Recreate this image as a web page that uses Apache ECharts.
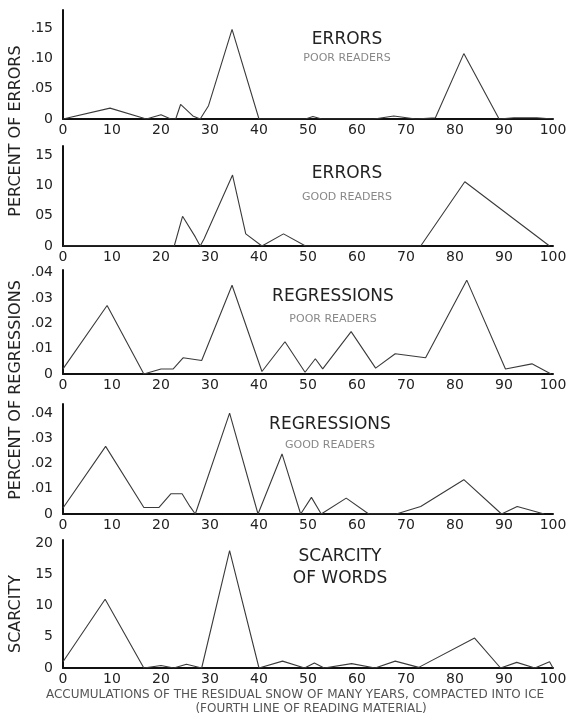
<!DOCTYPE html>
<html>
<head>
<meta charset="utf-8" />
<script src="https://cdn.jsdelivr.net/npm/echarts@6/dist/echarts.min.js"></script>
<style>
  html, body { margin: 0; padding: 0; background: #fff; }
  #main { width: 574px; height: 719px; }
</style>
</head>
<body>
<div id="main"></div>
<script>
// x positions along the reading line (0-100) and values
var errPoorX = [0, 9.6, 17, 20, 22, 23, 24, 26.5, 28, 29.7, 34.5, 40, 49.5, 51, 52.8, 63.5, 67.5, 72, 76, 81.8, 89, 92, 96.7, 100];
var errPoorY = [0, 0.018, 0, 0.007, 0, 0, 0.024, 0.005, 0, 0.022, 0.148, 0, 0, 0.004, 0, 0, 0.005, 0, 0.002, 0.108, 0, 0.002, 0.002, 0];

var errGoodX = [0, 22.7, 24.4, 27, 28, 28.8, 34.6, 37.3, 40.6, 45, 49.5, 73, 82, 99.3];
var errGoodY = [0, 0, 0.049, 0.015, 0, 0.012, 0.117, 0.02, 0, 0.02, 0, 0, 0.106, 0];

var regPoorX = [0, 9, 16.5, 20, 22.5, 24.5, 28.3, 34.5, 40.6, 45.3, 49.4, 51.5, 53, 58.8, 63.8, 67.8, 74, 82.4, 90.3, 95.7, 99.6];
var regPoorY = [0.002, 0.027, 0, 0.002, 0.002, 0.0064, 0.0053, 0.035, 0.001, 0.0127, 0.0007, 0.006, 0.002, 0.0167, 0.0023, 0.008, 0.0064, 0.037, 0.002, 0.004, 0];

var regGoodX = [0, 8.7, 16.5, 19.6, 22, 24.3, 25.9, 27, 34, 39.8, 44.7, 48.5, 50.7, 52.7, 57.8, 62.4, 68, 73, 81.8, 89.5, 92.7, 98.2];
var regGoodY = [0.0024, 0.0268, 0.0026, 0.0026, 0.008, 0.008, 0.003, 0, 0.04, 0, 0.0238, 0, 0.0066, 0, 0.0063, 0, 0, 0.003, 0.0136, 0, 0.003, 0];

var scarX = [0, 8.6, 16.5, 20, 22.6, 25.2, 28.3, 34, 40, 44.8, 49.3, 51.3, 53.3, 58.9, 63.7, 67.8, 72.6, 84, 89.3, 92.6, 96.3, 99.3, 100];
var scarY = [1.0, 11.0, 0, 0.4, 0, 0.6, 0, 18.8, 0, 1.1, 0, 0.8, 0, 0.7, 0, 1.1, 0.1, 4.8, 0, 0.9, 0, 1.0, 0];

// tick labels as printed
var errPoorTicks = ['0', '.05', '.10', '.15'];
var errGoodTicks = ['0', '05', '10', '15'];
var regPoorTicks = ['0', '.01', '.02', '.03', '.04'];
var regGoodTicks = ['0', '.01', '.02', '.03', '.04'];
var scarTicks = ['0', '5', '10', '15', '20'];

var titles = ['ERRORS', 'ERRORS', 'REGRESSIONS', 'REGRESSIONS', 'SCARCITY'];
var subtitles = ['POOR READERS', 'GOOD READERS', 'POOR READERS', 'GOOD READERS', 'OF WORDS'];

function pairs(xs, ys) {
    var out = [];
    for (var i = 0; i < xs.length; i++) out.push([xs[i], ys[i]]);
    return out;
}

var font = 'DejaVu Sans';
// panel layout: top, height, y max, y interval
var panels = [
    { top: 10, height: 109, max: 0.18, step: 0.05, ticks: errPoorTicks, data: pairs(errPoorX, errPoorY) },
    { top: 146, height: 100, max: 0.165, step: 0.05, ticks: errGoodTicks, data: pairs(errGoodX, errGoodY) },
    { top: 270, height: 104, max: 0.041, step: 0.01, ticks: regPoorTicks, data: pairs(regPoorX, regPoorY) },
    { top: 404, height: 110, max: 0.0436, step: 0.01, ticks: regGoodTicks, data: pairs(regGoodX, regGoodY) },
    { top: 540, height: 128, max: 20.5, step: 5, ticks: scarTicks, data: pairs(scarX, scarY) }
];
var titlePos = [[347, 40, 58], [347, 174, 197], [333, 297, 319], [330, 425, 445], [340, 557, 579]];

var grid = [], xAxis = [], yAxis = [], series = [], graphic = [];
panels.forEach(function (p, i) {
    grid.push({ left: 63, right: 21, top: p.top, height: p.height });
    xAxis.push({
        type: 'value', gridIndex: i, min: 0, max: 100, interval: 10,
        axisLine: { lineStyle: { color: '#111', width: 2 } },
        axisTick: { show: false },
        splitLine: { show: false },
        axisLabel: { color: '#222', fontFamily: font, fontSize: 14, margin: 4 }
    });
    yAxis.push({
        type: 'value', gridIndex: i, min: 0, max: p.max, interval: p.step,
        axisLine: { show: true, lineStyle: { color: '#111', width: 2 } },
        axisTick: { show: false },
        splitLine: { show: false },
        axisLabel: {
            color: '#222', fontFamily: font, fontSize: 14, margin: 10,
            formatter: function (v) {
                var k = Math.round(v / p.step);
                if (Math.abs(v - k * p.step) > 1e-9) return '';
                return p.ticks[k] || '';
            }
        }
    });
    series.push({
        type: 'line', xAxisIndex: i, yAxisIndex: i, data: p.data,
        symbol: 'none', lineStyle: { color: '#3a3a3a', width: 1.1 }
    });
    graphic.push({
        type: 'text', x: titlePos[i][0], y: titlePos[i][1],
        style: { text: titles[i], font: '17px ' + font, fill: '#222', align: 'center', verticalAlign: 'middle' }
    });
    graphic.push({
        type: 'text', x: titlePos[i][0], y: titlePos[i][2],
        style: {
            text: subtitles[i], align: 'center', verticalAlign: 'middle',
            font: (i == 4 ? '17px ' : '11px ') + font, fill: i == 4 ? '#222' : '#888'
        }
    });
});

// side labels and caption
graphic.push({ type: 'text', x: 16, y: 131, rotation: Math.PI / 2,
    style: { text: 'PERCENT OF ERRORS', font: '16px ' + font, fill: '#222', align: 'center', verticalAlign: 'middle' } });
graphic.push({ type: 'text', x: 16, y: 390, rotation: Math.PI / 2,
    style: { text: 'PERCENT OF REGRESSIONS', font: '16px ' + font, fill: '#222', align: 'center', verticalAlign: 'middle' } });
graphic.push({ type: 'text', x: 16, y: 614, rotation: Math.PI / 2,
    style: { text: 'SCARCITY', font: '16px ' + font, fill: '#222', align: 'center', verticalAlign: 'middle' } });
graphic.push({ type: 'text', x: 295, y: 695,
    style: { text: 'ACCUMULATIONS OF THE RESIDUAL SNOW OF MANY YEARS, COMPACTED INTO ICE', font: '12px ' + font, fill: '#555', align: 'center', verticalAlign: 'middle' } });
graphic.push({ type: 'text', x: 311, y: 709,
    style: { text: '(FOURTH LINE OF READING MATERIAL)', font: '12px ' + font, fill: '#555', align: 'center', verticalAlign: 'middle' } });

var chart = echarts.init(document.getElementById('main'));
chart.setOption({
    animation: false,
    backgroundColor: '#fff',
    grid: grid,
    xAxis: xAxis,
    yAxis: yAxis,
    series: series,
    graphic: graphic
});
</script>
</body>
</html>
